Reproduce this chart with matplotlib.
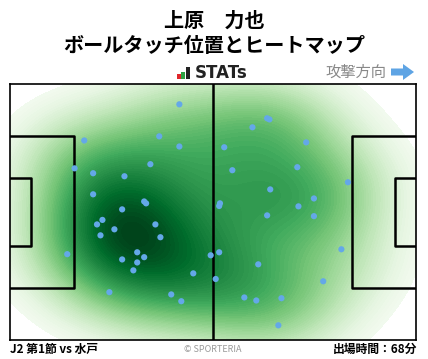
import numpy as np
import matplotlib
matplotlib.use("Agg")
import matplotlib.pyplot as plt
from matplotlib.colors import BoundaryNorm, ListedColormap
from matplotlib.patches import Rectangle, Polygon

plt.rcParams['font.family'] = ['Noto Sans CJK JP', 'DejaVu Sans']

# ボールタッチ位置 (m, 左下原点, 攻撃方向は右)
touch_x = [43.8, 19.2, 38.6, 43.8, 16.7, 21.5, 36.3, 29.6, 21.5, 34.7, 35.2, 29.0,
           23.9, 22.5, 27.0, 23.4, 37.6, 38.9, 14.8, 32.9, 34.7, 29.0, 32.9, 31.9,
           51.9, 47.4, 25.7, 41.7, 44.3,
           66.5, 67.1, 62.7, 55.4, 76.6, 57.5, 74.3, 87.4, 67.3, 78.6, 54.3, 54.1,
           74.6, 66.5, 78.6, 54.1, 53.2, 64.2, 85.7, 81.0, 60.6, 63.7, 70.2, 69.4]
touch_y = [62.6, 53.0, 54.1, 51.4, 45.6, 44.3, 46.7, 43.5, 38.7, 36.8, 36.3, 34.7,
           31.9, 30.7, 29.4, 27.8, 30.7, 27.3, 22.8, 23.3, 22.0, 21.4, 20.6, 18.5,
           22.5, 17.7, 12.7, 12.1, 10.3,
           58.9, 58.6, 56.5, 51.2, 52.5, 45.1, 45.9, 41.9, 40.0, 37.6, 36.3, 35.6,
           35.5, 33.1, 32.9, 23.3, 16.2, 20.1, 24.1, 15.6, 11.3, 10.5, 11.1, 3.9]

player = "上原　力也"
title = "ボールタッチ位置とヒートマップ"
match_label = "J2 第1節 vs 水戸"
minutes_label = "出場時間：68分"

PITCH_L, PITCH_W = 105.0, 68.0


def kde_grid(x, y, gx, gy, factor=None):
    # scipy風のガウスKDE (Scott)
    data = np.vstack([x, y])
    n = data.shape[1]
    if factor is None:
        factor = n ** (-1.0 / 6)
    cov = np.cov(data) * factor ** 2
    inv = np.linalg.inv(cov)
    pts = np.vstack([gx.ravel(), gy.ravel()])
    d = pts[:, :, None] - data[:, None, :]
    e = np.einsum('ikn,ij,jkn->kn', d, inv, d)
    z = np.exp(-0.5 * e).sum(axis=1)
    return z.reshape(gx.shape)


fig = plt.figure(figsize=(4.28, 3.59), dpi=100)

ax = fig.add_axes([10 / 428, 1 - 340 / 359, 406 / 428, 256 / 359])
gx, gy = np.meshgrid(np.linspace(0, PITCH_L, 320), np.linspace(0, PITCH_W, 220))
z = kde_grid(np.array(touch_x), np.array(touch_y), gx, gy, factor=0.6)
z = (z / z.max()) ** 0.65
levels = np.linspace(0.11, 1.001, 70)
base = plt.get_cmap('Greens')
cmap = ListedColormap(base(np.linspace(0.04, 1.0, 256)))
norm = BoundaryNorm(levels, cmap.N)
ax.contourf(gx, gy, z, levels=levels, cmap=cmap, norm=norm, zorder=1)

# ピッチライン
lw = 1.8
ax.plot([PITCH_L / 2, PITCH_L / 2], [0, PITCH_W], color='black', lw=lw, zorder=2)
for x0, sgn in [(0, 1), (PITCH_L, -1)]:
    ax.plot([x0, x0 + sgn * 16.5, x0 + sgn * 16.5, x0],
            [PITCH_W / 2 - 20.16, PITCH_W / 2 - 20.16, PITCH_W / 2 + 20.16, PITCH_W / 2 + 20.16],
            color='black', lw=lw, zorder=2)
    ax.plot([x0, x0 + sgn * 5.5, x0 + sgn * 5.5, x0],
            [PITCH_W / 2 - 9.16, PITCH_W / 2 - 9.16, PITCH_W / 2 + 9.16, PITCH_W / 2 + 9.16],
            color='black', lw=lw, zorder=2)

ax.scatter(touch_x, touch_y, s=20, color='#64a8e8', edgecolors='none', zorder=3)

ax.set_xlim(0, PITCH_L)
ax.set_ylim(0, PITCH_W)
ax.set_xticks([])
ax.set_yticks([])
for s in ax.spines.values():
    s.set_linewidth(1.2)
    s.set_color('black')

# ヘッダー・フッター (ピクセル座標)
over = fig.add_axes([0, 0, 1, 1], facecolor='none')
over.set_xlim(0, 428)
over.set_ylim(359, 0)
over.axis('off')

over.text(214, 20, player, ha='center', va='center', fontsize=14.5, fontweight='bold')
over.text(214, 46, title, ha='center', va='center', fontsize=14.5, fontweight='bold')

# STATs ロゴ
for bx, bh, c in [(177, 5, '#e0262b'), (181.5, 7, '#2ea043'), (186, 12, '#222222')]:
    over.add_patch(Rectangle((bx, 79 - bh), 3.8, bh, color=c, lw=0))
over.text(195, 73.5, "STATs", ha='left', va='center', fontsize=12, fontweight='bold',
          family='DejaVu Sans', color='#222222')

over.text(386, 72, "攻撃方向", ha='right', va='center', fontsize=11, color='#888888')
over.add_patch(Polygon([[391, 68.5], [403, 68.5], [403, 64], [414, 72], [403, 80],
                        [403, 75.5], [391, 75.5]], closed=True, color='#5ea4e4', lw=0))

over.text(10, 349, match_label, ha='left', va='center', fontsize=8.5, fontweight='bold')
over.text(213, 349, "© SPORTERIA", ha='center', va='center', fontsize=6.5, color='#999999')
over.text(417, 349, minutes_label, ha='right', va='center', fontsize=8.5, fontweight='bold')

fig.savefig("out.png", dpi=100)
